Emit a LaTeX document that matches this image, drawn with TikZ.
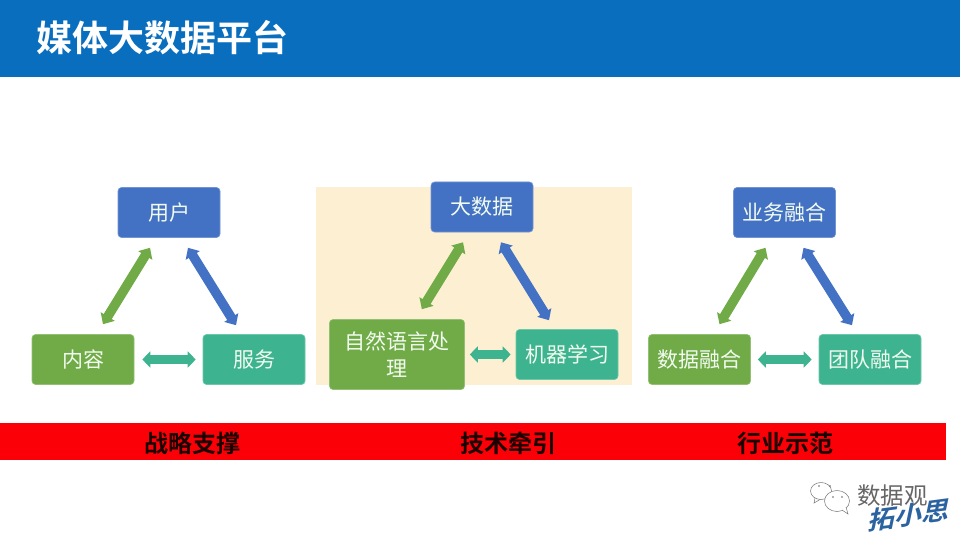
\documentclass[tikz,border=0pt]{standalone}
\usepackage{fontspec}
\setmainfont{Noto Sans CJK SC}[BoldFont={Noto Sans CJK SC Bold}]
\usetikzlibrary{arrows.meta,positioning}
\definecolor{hdr}{HTML}{0A6EBE}
\definecolor{bluebox}{HTML}{4371C3}
\definecolor{greenbox}{HTML}{70AB47}
\definecolor{tealbox}{HTML}{3DB48F}
\definecolor{cream}{HTML}{FDF0D2}
\definecolor{barred}{HTML}{FB0006}
\definecolor{boxtext}{HTML}{F2FBF0}
\definecolor{sign}{HTML}{2B62A0}
\tikzset{
  x=1pt,y=-1pt,
  card/.style={rounded corners=3.5pt,minimum width=102pt,minimum height=50pt,inner sep=0pt,align=center,
    text=boxtext,font=\fontsize{21}{27}\selectfont,line width=0.6pt},
  bluecard/.style={card,fill=bluebox,draw=bluebox!75!white},
  greencard/.style={card,fill=greenbox,draw=greenbox!75!white},
  tealcard/.style={card,fill=tealbox,draw=tealbox!75!white},
  link/.style={line width=9.5pt,{Triangle[length=9pt,width=16pt]}-{Triangle[length=9pt,width=16pt]}},
  flatlink/.style={line width=9pt,{Triangle[length=8pt,width=16pt]}-{Triangle[length=8pt,width=16pt]}},
  bandtext/.style={font=\fontsize{24}{28}\selectfont\bfseries,text=black!90!barred,inner sep=0pt},
}
\begin{document}
\begin{tikzpicture}
\useasboundingbox (0,0) rectangle (960,540);
\fill[white] (0,0) rectangle (960,540);
\fill[hdr] (0,0) rectangle (960,77);
\node[font=\fontsize{36}{40}\selectfont\bfseries,text=white,inner sep=0pt,anchor=west] (title) at (36,38) {媒体大数据平台};
\fill[cream] (316,187) rectangle (632,385);
\fill[barred] (0,423) rectangle (946,460);
\node[bandtext] (b1) at (192,443) {战略支撑};
\node[bandtext] (b2) at (508,443) {技术牵引};
\node[bandtext] (b3) at (785,443) {行业示范};
% left
\node[bluecard] (user) at (169,212.5) {用户};
\node[greencard] (content) at (83,359.5) {内容};
\node[tealcard] (service) at (254,359.5) {服务};
\draw[link,greenbox] ([shift={(-19,10)}]user.south) -- ([shift={(20,-10)}]content.north);
\draw[link,bluebox] ([shift={(19,10)}]user.south) -- ([shift={(-18,-9)}]service.north);
\draw[flatlink,tealbox] ([xshift=8]content.east) -- ([xshift=-7]service.west);
% middle
\node[bluecard] (big) at (482,207) {大数据};
\node[greencard,minimum width=135pt,minimum height=70pt] (nlp) at (397,354.5) {自然语言处\\理};
\node[tealcard] (ml) at (567,354.5) {机器学习};
\draw[link,greenbox] ([shift={(-19,10)}]big.south) -- ([shift={(-43,-10)}]nlp.north east);
\draw[link,bluebox] ([shift={(19,10)}]big.south) -- ([shift={(-18,-9)}]ml.north);
\draw[flatlink,tealbox] ([xshift=5]nlp.east) -- ([xshift=-5]ml.west);
% right
\node[bluecard] (biz) at (784.5,212.5) {业务融合};
\node[greencard] (data) at (699.5,359.5) {数据融合};
\node[tealcard] (team) at (870,359.5) {团队融合};
\draw[link,greenbox] ([shift={(-19,10)}]biz.south) -- ([shift={(20,-10)}]data.north);
\draw[link,bluebox] ([shift={(19,10)}]biz.south) -- ([shift={(-18,-9)}]team.north);
\draw[flatlink,tealbox] ([xshift=7]data.east) -- ([xshift=-7]team.west);
% watermark
\draw[black!55,line width=0.5pt,fill=white] (821,491) ellipse (10.5 and 8.5);
\draw[black!55,line width=0.5pt] (815,498) -- (814,503) -- (820,499.5);
\draw[black!55,line width=0.5pt,fill=white] (837,501) ellipse (12.5 and 10.5);
\draw[black!55,line width=0.5pt,fill=white] (842,510) -- (848,514) -- (846,507);
\fill[black!60] (819,486) circle (0.8) (830,486) circle (0.8) (833,497) circle (0.8) (842,497) circle (0.8);
\node[font=\fontsize{23.5}{26}\selectfont,text=black!60,inner sep=0pt,anchor=west] (wm) at (857,496) {数据观};
\node[font=\fontsize{26}{30}\selectfont\bfseries,text=sign,inner sep=0pt,xslant=0.35,rotate=8] (sg) at (910,515) {拓小思};
\end{tikzpicture}
\end{document}
